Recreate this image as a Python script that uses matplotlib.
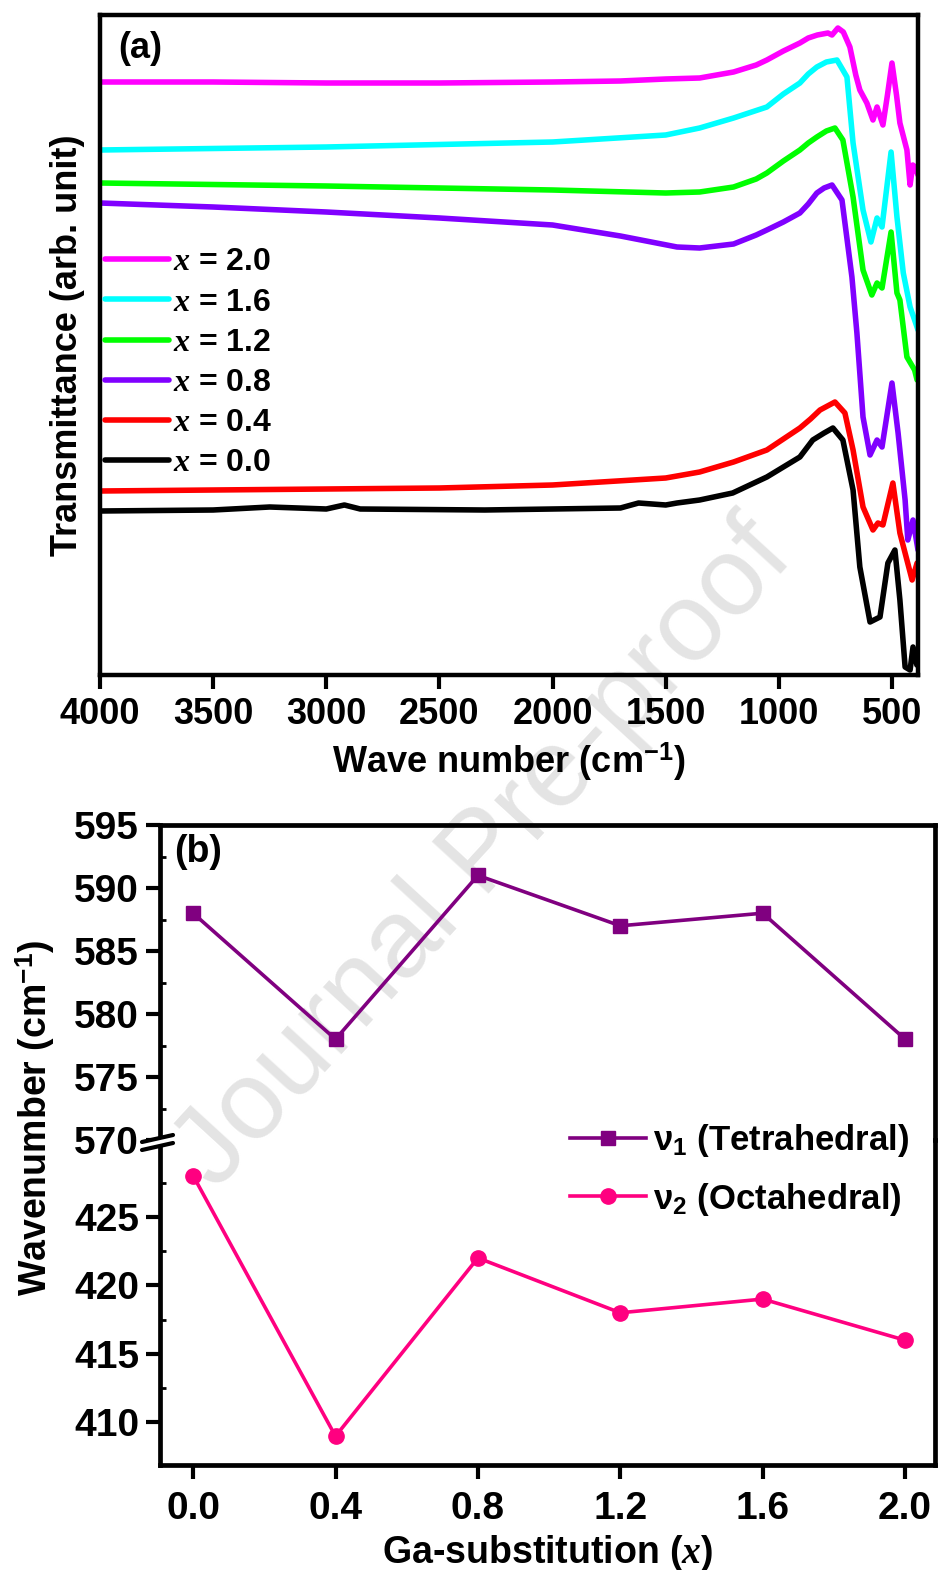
import matplotlib
matplotlib.use('Agg')
import matplotlib.pyplot as plt
from matplotlib.lines import Line2D

plt.rcParams['font.family'] = ['Liberation Sans', 'DejaVu Sans']
plt.rcParams['font.weight'] = 'bold'
plt.rcParams['axes.labelweight'] = 'bold'
plt.rcParams['mathtext.fontset'] = 'custom'
plt.rcParams['mathtext.rm'] = 'Liberation Sans:bold'
plt.rcParams['mathtext.bf'] = 'Liberation Sans:bold'
plt.rcParams['mathtext.it'] = 'Liberation Serif:italic'

# ---- (a) FTIR spectra, transmittance in arb. units ----
wn_20 = [4000, 3500, 3000, 2500, 2000, 1700, 1500, 1350, 1200, 1100, 1053, 980, 907, 870, 830,
         783, 765, 739, 715, 686, 660, 642, 611, 584, 566, 540, 520, 500, 480, 465, 434,
         420, 408, 398, 385]
tr_20 = [593, 593, 592, 592, 593, 594, 596, 597, 603, 610, 615, 624, 632, 637, 640,
         642, 640, 647, 643, 628, 600, 585, 572, 555, 568, 550, 580, 612, 580, 552, 525,
         490, 510, 508, 500]

wn_16 = [4000, 3000, 2000, 1500, 1350, 1200, 1053, 980, 907, 870, 832, 790, 743, 699, 672,
         628, 593, 566, 544, 504, 478, 450, 420, 400, 385]
tr_16 = [525, 528, 533, 540, 547, 557, 568, 581, 592, 601, 608, 613, 615, 598, 532,
         465, 433, 457, 448, 523, 458, 402, 368, 355, 345]

wn_12 = [4000, 3000, 2500, 2000, 1500, 1350, 1200, 1100, 1053, 980, 907, 870, 832, 790, 752,
         717, 672, 628, 589, 566, 544, 504, 478, 465, 434, 400, 389]
tr_12 = [492, 489, 487, 485, 482, 483, 488, 496, 502, 514, 525, 532, 538, 544, 547,
         535, 478, 405, 380, 392, 387, 443, 382, 375, 318, 305, 295]

wn_08 = [4000, 3500, 3000, 2500, 2000, 1700, 1450, 1350, 1200, 1100, 1053, 980, 907, 870, 832,
         800, 765, 721, 677, 655, 628, 597, 566, 544, 500, 473, 442, 430, 407, 385]
tr_08 = [472, 468, 463, 457, 450, 439, 428, 427, 431, 440, 445, 453, 462, 471, 482,
         487, 490, 475, 398, 342, 258, 220, 235, 228, 292, 242, 175, 135, 155, 125]

wn_04 = [4000, 3000, 2500, 2000, 1500, 1350, 1200, 1053, 980, 907, 860, 818, 752, 708, 672,
         628, 584, 562, 540, 496, 465, 434, 411, 389]
tr_04 = [184, 186, 187, 190, 197, 203, 213, 225, 236, 247, 256, 265, 273, 262, 225,
         168, 145, 152, 150, 192, 142, 115, 95, 112]

wn_00 = [4000, 3500, 3250, 3000, 2920, 2850, 2300, 2000, 1700, 1620, 1500, 1450, 1350, 1204,
         1053, 980, 907, 850, 800, 761, 717, 672, 642, 597, 553, 518, 487, 465, 442, 420,
         407, 390]
tr_00 = [164, 165, 168, 166, 170, 166, 165, 166, 167, 172, 170, 172, 175, 182,
         198, 208, 218, 235, 242, 247, 235, 185, 108, 53, 58, 112, 125, 75, 8, 5,
         28, 10]

spectra = [
    (wn_20, tr_20, '#FF00FF', '2.0'),
    (wn_16, tr_16, '#00FFFF', '1.6'),
    (wn_12, tr_12, '#00FF00', '1.2'),
    (wn_08, tr_08, '#8000FF', '0.8'),
    (wn_04, tr_04, '#FF0000', '0.4'),
    (wn_00, tr_00, '#000000', '0.0'),
]

# ---- (b) band positions ----
ga_x = [0.0, 0.4, 0.8, 1.2, 1.6, 2.0]
nu1 = [588, 578, 591, 587, 588, 578]
nu2 = [428, 409, 422, 418, 419, 416]

fig = plt.figure(figsize=(9.42, 15.70), dpi=100)

W, H = 942.0, 1570.0
def rect(l, t, r, b):
    return [l / W, 1 - b / H, (r - l) / W, (b - t) / H]

# watermark
fig.text(485 / W, 1 - 855 / H, 'Journal Pre-proof', fontsize=80, fontweight='normal',
         color='#e4e4e4', rotation=47.5, ha='center', va='center', zorder=-1)

# ---------- panel (a) ----------
ax = fig.add_axes(rect(100, 15, 918, 675))
ax.set_facecolor('none')
for wn, tr, c, lab in spectra:
    ax.plot(wn, tr, color=c, lw=4, solid_capstyle='round', solid_joinstyle='round',
            label='$x$ = ' + lab)
ax.set_xlim(4000, 385)
ax.set_ylim(0, 660)
ax.set_xticks([4000, 3500, 3000, 2500, 2000, 1500, 1000, 500])
ax.set_yticks([])
ax.tick_params(axis='x', direction='out', length=10, width=3, labelsize=26, pad=6)
for s in ax.spines.values():
    s.set_linewidth(3.2)
ax.set_xlabel('Wave number (cm$^{-1}$)', fontsize=26, labelpad=6)
ax.set_ylabel('Transmittance (arb. unit)', fontsize=26)
ax.yaxis.set_label_coords(-0.018, 0.5)
ax.text(0.022, 0.975, '(a)', transform=ax.transAxes, fontsize=26, va='top', ha='left')
ax.legend(loc='upper left', bbox_to_anchor=(0.006, 0.648), frameon=False, fontsize=23,
          handlelength=2.0, handletextpad=0.12, labelspacing=0.32, borderaxespad=0, borderpad=0)

# ---------- panel (b), broken y axis ----------
ax_hi = fig.add_axes(rect(160, 825, 935, 1140))
ax_lo = fig.add_axes(rect(160, 1140, 935, 1465))
for a in (ax_hi, ax_lo):
    a.set_facecolor('none')
    a.set_xlim(-0.093, 2.084)
    for s in a.spines.values():
        s.set_linewidth(3.4)
    a.tick_params(axis='y', which='major', direction='out', length=10, width=3, labelsize=28, pad=5)
    a.tick_params(axis='y', which='minor', direction='in', length=4, width=2)

ax_hi.spines['bottom'].set_visible(False)
ax_lo.spines['top'].set_visible(False)

l1, = ax_hi.plot(ga_x, nu1, color='#800080', lw=2.6, marker='s', ms=9.5,
                 label=r'ν$_1$ (Tetrahedral)')
l2, = ax_lo.plot(ga_x, nu2, color='#FF0080', lw=2.6, marker='o', ms=11,
                 label=r'ν$_2$ (Octahedral)')

ax_hi.set_ylim(570, 595)
ax_hi.set_yticks([570, 575, 580, 585, 590, 595])
ax_hi.set_yticks([572.5, 577.5, 582.5, 587.5, 592.5], minor=True)
ax_hi.set_xticks([])

ax_lo.set_ylim(406.9, 430.6)
ax_lo.set_yticks([410, 415, 420, 425])
ax_lo.set_yticks([412.5, 417.5, 422.5, 427.5], minor=True)
ax_lo.set_xticks(ga_x)
ax_lo.set_xticklabels(['%.1f' % v for v in ga_x])
ax_lo.tick_params(axis='x', direction='out', length=10, width=3, labelsize=28, pad=9)
ax_lo.set_xlabel('Ga-substitution ($x$)', fontsize=27, labelpad=4)

ax_hi.text(0.018, 0.97, '(b)', transform=ax_hi.transAxes, fontsize=27, va='top', ha='left')
fig.text(35 / W, 1 - 1118 / H, 'Wavenumber (cm$^{-1}$)', fontsize=27, rotation=90,
         ha='center', va='center')

# break marks on the left spine
fig.add_artist(Line2D([150 / W, 168 / W], [1 - 1144 / H, 1 - 1140 / H], color='white',
                      lw=5, transform=fig.transFigure))
for yb in (1139, 1147):
    fig.add_artist(Line2D([142 / W, 173 / W], [1 - (yb + 3) / H, 1 - (yb - 4) / H],
                          color='black', lw=3, solid_capstyle='round',
                          transform=fig.transFigure))

fig.legend(handles=[l1, l2], loc='upper left', bbox_to_anchor=(570 / W, 1 - 1122 / H),
           frameon=False, fontsize=25, handlelength=2.2, handletextpad=0.2,
           labelspacing=0.62, borderpad=0, borderaxespad=0)

fig.savefig('out.png', dpi=100)
